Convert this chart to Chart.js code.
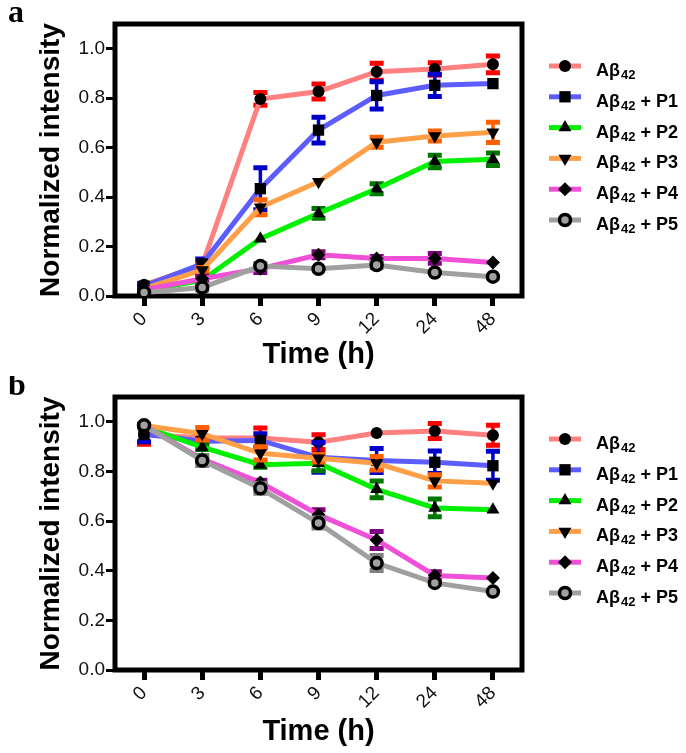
<!DOCTYPE html>
<html>
<head>
<meta charset="utf-8">
<script src="https://cdn.jsdelivr.net/npm/chart.js@4.4.1/dist/chart.umd.min.js"></script>
<style>
    body { margin: 0; background: #fff; }
    #wrap { position: relative; width: 686px; height: 753px; }
    .panel { position: absolute; left: 0; width: 686px; }
</style>
</head>
<body>
<div id="wrap">
    <div class="panel" style="top:0;height:376px"><canvas id="chartA"></canvas></div>
    <div class="panel" style="top:376px;height:377px"><canvas id="chartB"></canvas></div>
</div>
<script>
const timeLabels = ['0', '3', '6', '9', '12', '24', '48'];
const seriesLabels = ['Aβ42', 'Aβ42 + P1', 'Aβ42 + P2', 'Aβ42 + P3', 'Aβ42 + P4', 'Aβ42 + P5'];
const yTicks = [0, 0.2, 0.4, 0.6, 0.8, 1.0];

// panel a
const aAbeta = [0.045, 0.125, 0.797, 0.827, 0.907, 0.918, 0.937];
const aAbetaErr = [0.005, 0.01, 0.026, 0.03, 0.034, 0.025, 0.034];
const aP1 = [0.04, 0.13, 0.434, 0.671, 0.811, 0.852, 0.859];
const aP1Err = [0.01, 0.02, 0.085, 0.052, 0.055, 0.045, 0];
const aP2 = [0.02, 0.064, 0.232, 0.334, 0.434, 0.544, 0.553];
const aP2Err = [0, 0.01, 0, 0.02, 0.02, 0.025, 0.025];
const aP3 = [0.03, 0.105, 0.359, 0.462, 0.622, 0.647, 0.662];
const aP3Err = [0, 0.01, 0.03, 0, 0.02, 0.02, 0.041];
const aP4 = [0.025, 0.07, 0.11, 0.167, 0.152, 0.152, 0.135];
const aP4Err = [0, 0.01, 0.015, 0.012, 0.008, 0.02, 0];
const aP5 = [0.014, 0.034, 0.121, 0.11, 0.125, 0.095, 0.078];
const aP5Err = [0, 0.01, 0.01, 0, 0.01, 0, 0];

// panel b
const bAbeta = [0.95, 0.935, 0.935, 0.918, 0.955, 0.963, 0.946];
const bAbetaErr = [0.04, 0, 0.04, 0.03, 0, 0.03, 0.04];
const bP1 = [0.95, 0.922, 0.925, 0.857, 0.844, 0.837, 0.823];
const bP1Err = [0.03, 0.01, 0.027, 0.06, 0.048, 0.045, 0.058];
const bP2 = [0.98, 0.898, 0.827, 0.833, 0.728, 0.653, 0.646];
const bP2Err = [0, 0.01, 0.01, 0.03, 0.034, 0.036, 0];
const bP3 = [0.985, 0.952, 0.873, 0.853, 0.833, 0.762, 0.752];
const bP3Err = [0, 0.025, 0.027, 0.015, 0.027, 0.025, 0];
const bP4 = [0.985, 0.85, 0.755, 0.626, 0.524, 0.381, 0.371];
const bP4Err = [0, 0.01, 0.01, 0.02, 0.034, 0.015, 0];
const bP5 = [0.986, 0.844, 0.732, 0.592, 0.431, 0.351, 0.316];
const bP5Err = [0, 0.02, 0.02, 0.02, 0.03, 0, 0];

const FONT = '"Liberation Sans", Arial, sans-serif';

const styles = [
    { line: '#ff8080', err: '#ff0000', point: 'circle', rot: 0, radius: 6, fill: '#000', border: '#000', bw: 0 },
    { line: '#5c5cff', err: '#0000c8', point: 'rect', rot: 0, radius: 8, fill: '#000', border: '#000', bw: 0 },
    { line: '#00f000', err: '#007800', point: 'triangle', rot: 0, radius: 7.5, fill: '#000', border: '#000', bw: 0 },
    { line: '#ffa048', err: '#ff6000', point: 'triangle', rot: 180, radius: 7.5, fill: '#000', border: '#000', bw: 0 },
    { line: '#f050d8', err: '#800080', point: 'rectRot', rot: 0, radius: 7, fill: '#000', border: '#000', bw: 0 },
    { line: '#a0a0a0', err: '#808080', point: 'circle', rot: 0, radius: 5.5, fill: '#a0a0a0', border: '#000', bw: 3.5 },
];

function buildDatasets(values, errors) {
    return values.map((v, i) => ({
        label: seriesLabels[i],
        data: v,
        errors: errors[i],
        order: values.length - 1 - i,
        borderColor: styles[i].line,
        borderWidth: 5,
        tension: 0,
        pointStyle: styles[i].point,
        pointRotation: styles[i].rot,
        pointRadius: styles[i].radius,
        pointBackgroundColor: styles[i].fill,
        pointBorderColor: styles[i].border,
        pointBorderWidth: styles[i].bw,
        errColor: styles[i].err,
    }));
}

function markerPath(ctx, style, rot, x, y, r) {
    ctx.beginPath();
    if (style === 'circle') {
        ctx.arc(x, y, r, 0, Math.PI * 2);
    } else if (style === 'rect') {
        const s = r * Math.SQRT1_2;
        ctx.rect(x - s, y - s, 2 * s, 2 * s);
    } else if (style === 'rectRot') {
        ctx.moveTo(x, y - r);
        ctx.lineTo(x + r, y);
        ctx.lineTo(x, y + r);
        ctx.lineTo(x - r, y);
        ctx.closePath();
    } else if (style === 'triangle') {
        let rad = rot * Math.PI / 180;
        ctx.moveTo(x + Math.sin(rad) * r, y - Math.cos(rad) * r);
        for (let k = 0; k < 2; k++) {
            rad += Math.PI * 2 / 3;
            ctx.lineTo(x + Math.sin(rad) * r, y - Math.cos(rad) * r);
        }
        ctx.closePath();
    }
}

const errorBars = {
    id: 'errorBars',
    beforeDatasetDraw(chart, args) {
        const ds = chart.data.datasets[args.index];
        const meta = args.meta;
        const yScale = chart.scales.y;
        const ctx = chart.ctx;
        ctx.save();
        ctx.strokeStyle = ds.errColor;
        ds.data.forEach((v, i) => {
            const e = ds.errors[i];
            if (!e) return;
            const x = meta.data[i].x;
            const yTop = yScale.getPixelForValue(v + e);
            const yBot = yScale.getPixelForValue(v - e);
            ctx.lineWidth = 3.5;
            ctx.beginPath();
            ctx.moveTo(x, yTop);
            ctx.lineTo(x, yBot);
            ctx.stroke();
            ctx.lineWidth = 5;
            ctx.beginPath();
            ctx.moveTo(x - 7, yTop);
            ctx.lineTo(x + 7, yTop);
            ctx.moveTo(x - 7, yBot);
            ctx.lineTo(x + 7, yBot);
            ctx.stroke();
        });
        ctx.restore();
    },
};

const frame = {
    id: 'frame',
    beforeDatasetsDraw(chart) {
        const { ctx, chartArea: a } = chart;
        ctx.save();
        ctx.strokeStyle = '#000';
        ctx.lineWidth = 5;
        ctx.strokeRect(a.left, a.top, a.right - a.left, a.bottom - a.top);
        ctx.restore();
    },
    afterDraw(chart, args, opts) {
        const { ctx, chartArea: a } = chart;
        ctx.save();
        // panel letter
        ctx.fillStyle = '#000';
        ctx.font = 'bold 32px "Liberation Serif", "Times New Roman", serif';
        ctx.textBaseline = 'alphabetic';
        ctx.fillText(opts.letter, 8, a.top - 2);

        // legend
        chart.data.datasets.forEach((ds, i) => {
            const st = styles[i];
            const rowY = a.top + 42 + i * 30.8;
            ctx.strokeStyle = st.line;
            ctx.lineWidth = 5;
            ctx.beginPath();
            ctx.moveTo(549, rowY);
            ctx.lineTo(581, rowY);
            ctx.stroke();
            markerPath(ctx, st.point, st.rot, 565, rowY, st.radius);
            ctx.fillStyle = st.fill;
            ctx.fill();
            if (st.bw) {
                ctx.lineWidth = st.bw;
                ctx.strokeStyle = st.border;
                ctx.stroke();
            }
            const [head, tail] = ds.label.split('42');
            const base = rowY + 10;
            let x = 596;
            ctx.fillStyle = '#000';
            ctx.font = 'bold 18px ' + FONT;
            ctx.fillText(head, x, base);
            x += ctx.measureText(head).width + 1;
            ctx.font = 'bold 13px ' + FONT;
            ctx.fillText('42', x, base + 3);
            x += ctx.measureText('42').width;
            ctx.font = 'bold 18px ' + FONT;
            ctx.fillText(tail, x, base);
        });
        ctx.restore();
    },
};

function makeChart(id, letter, values, errors, top, xHeight) {
    return new Chart(document.getElementById(id), {
        type: 'line',
        data: {
            labels: timeLabels,
            datasets: buildDatasets(values, errors),
        },
        plugins: [errorBars, frame],
        options: {
            responsive: true,
            maintainAspectRatio: false,
            animation: false,
            layout: { padding: { left: 0, right: 164, top: top, bottom: 0 } },
            plugins: {
                legend: { display: false },
                tooltip: { enabled: false },
                frame: { letter: letter },
            },
            scales: {
                x: {
                    type: 'category',
                    offset: true,
                    border: { display: false },
                    grid: {
                        display: true,
                        drawOnChartArea: false,
                        drawTicks: true,
                        tickLength: 10,
                        tickWidth: 5,
                        tickColor: '#000',
                    },
                    ticks: {
                        minRotation: 45,
                        maxRotation: 45,
                        padding: 2,
                        color: '#111',
                        font: { family: FONT, size: 19 },
                    },
                    title: {
                        display: true,
                        text: 'Time (h)',
                        color: '#000',
                        font: { family: FONT, size: 29, weight: 'bold' },
                        padding: { top: 0, bottom: 4 },
                    },
                    afterFit(scale) { scale.height = xHeight; },
                },
                y: {
                    min: 0,
                    max: 1.1,
                    border: { display: false },
                    grid: {
                        display: true,
                        drawOnChartArea: false,
                        drawTicks: true,
                        tickLength: 9,
                        tickWidth: 3,
                        tickColor: '#000',
                    },
                    afterBuildTicks(scale) {
                        scale.ticks = yTicks.map(v => ({ value: v }));
                    },
                    ticks: {
                        padding: 1,
                        color: '#111',
                        font: { family: FONT, size: 19 },
                        callback: v => Number(v).toFixed(1),
                    },
                    title: {
                        display: true,
                        text: 'Normalized intensity',
                        color: '#000',
                        font: { family: FONT, size: 28, weight: 'bold' },
                        padding: { top: 34, bottom: 0 },
                    },
                    afterFit(scale) { scale.width = 115; },
                },
            },
        },
    });
}

makeChart('chartA', 'a',
    [aAbeta, aP1, aP2, aP3, aP4, aP5],
    [aAbetaErr, aP1Err, aP2Err, aP3Err, aP4Err, aP5Err],
    24, 80);
makeChart('chartB', 'b',
    [bAbeta, bP1, bP2, bP3, bP4, bP5],
    [bAbetaErr, bP1Err, bP2Err, bP3Err, bP4Err, bP5Err],
    21, 83);
</script>
</body>
</html>
